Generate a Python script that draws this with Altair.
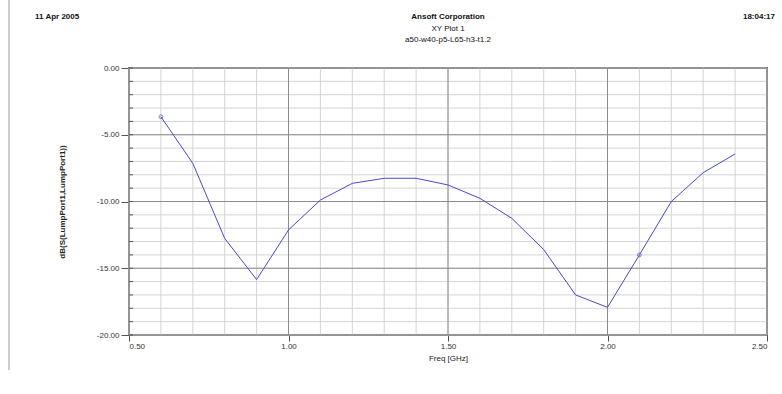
import altair as alt
import pandas as pd
import numpy as np

freq = [0.6, 0.7, 0.8, 0.9, 1.0, 1.1, 1.2, 1.3, 1.4, 1.5, 1.6, 1.7, 1.8, 1.9, 2.0, 2.1, 2.2, 2.3, 2.4]
db = [-3.65, -7.14, -12.76, -15.85, -12.13, -9.89, -8.64, -8.26, -8.26, -8.76, -9.76, -11.26,
      -13.6, -17.0, -17.93, -14.0, -10.0, -7.84, -6.44]
marker_freq = [0.6, 2.1]
marker_db = [-3.65, -14.0]

x_major = [0.5, 1.0, 1.5, 2.0, 2.5]
y_major = [0, -5, -10, -15, -20]
x_minor = [round(v, 1) for v in np.arange(0.5, 2.51, 0.1)]
y_minor = list(range(0, -21, -1))

df = pd.DataFrame({"f": freq, "db": db})
dm = pd.DataFrame({"f": marker_freq, "db": marker_db})

FONT = "Liberation Sans"
xs = alt.Scale(domain=[0.5, 2.5], nice=False, zero=False)
ys = alt.Scale(domain=[-20, 0], nice=False, zero=False)
LBL = "replace(format(datum.value, '.2f'), '\u2212', '-')"

x_axis = alt.Axis(values=x_major, labelExpr=LBL, grid=False, tickSize=6, tickColor="#555555",
                  domain=False, labelFont=FONT, labelFontSize=8, labelColor="#333333",
                  labelPadding=1, titleFont=FONT, titleFontSize=8, titleFontWeight="normal",
                  titleColor="#222222", titlePadding=4)
y_axis = alt.Axis(values=y_major, labelExpr=LBL, grid=False, tickSize=8, tickColor="#555555",
                  domain=False, labelFont=FONT, labelFontSize=8, labelColor="#333333",
                  labelPadding=2, titleFont=FONT, titleFontSize=8, titleFontWeight="bold",
                  titleColor="#222222", titlePadding=30)
XT = "Freq [GHz]"
YT = "dB(S(LumpPort1,LumpPort1))"

def X(field):
    return alt.X(field, scale=xs, title=XT, axis=x_axis)

def Y(field):
    return alt.Y(field, scale=ys, title=YT, axis=y_axis)

minor_vx = alt.Chart(pd.DataFrame({"v": x_minor})).mark_rule(color="#d4d4d4", strokeWidth=1).encode(
    x=X("v:Q"))
minor_hy = alt.Chart(pd.DataFrame({"v": y_minor})).mark_rule(color="#d4d4d4", strokeWidth=1).encode(
    y=Y("v:Q"))
major_vx = alt.Chart(pd.DataFrame({"v": x_major})).mark_rule(color="#8c8c8c", strokeWidth=1).encode(
    x=X("v:Q"))
major_hy = alt.Chart(pd.DataFrame({"v": y_major})).mark_rule(color="#8c8c8c", strokeWidth=1).encode(
    y=Y("v:Q"))
inner_ticks = alt.Chart(pd.DataFrame({"v": y_minor})).mark_rule(color="#555555", strokeWidth=1).encode(
    y=Y("v:Q"), x=alt.value(0), x2=alt.value(4))

line = alt.Chart(df).mark_line(color="#4a4acc", strokeWidth=1).encode(x=X("f:Q"), y=Y("db:Q"))
markers = alt.Chart(dm).mark_point(shape="circle", size=14, color="#4a4acc", filled=False,
                                   strokeWidth=1).encode(x=X("f:Q"), y=Y("db:Q"))

def txt(s, x, y, bold=False, align="center"):
    return alt.Chart(pd.DataFrame({"t": [s]})).mark_text(
        font=FONT, fontSize=8, fontWeight="bold" if bold else "normal", color="#111111",
        align=align, baseline="middle").encode(x=alt.value(x), y=alt.value(y), text="t:N")

head = [
    txt("11 Apr 2005", -94, -51, bold=True, align="left"),
    txt("Ansoft Corporation", 319, -51, bold=True),
    txt("XY Plot 1", 319, -39),
    txt("a50-w40-p5-L65-h3-t1.2", 319, -28),
    txt("18:04:17", 646, -51, bold=True, align="right"),
]

border = alt.Chart(pd.DataFrame({"a": [0]})).mark_rule(color="#999999", strokeWidth=1).encode(
    x=alt.value(-120), y=alt.value(-68), y2=alt.value(302))

chart = alt.layer(minor_vx, minor_hy, major_vx, major_hy, inner_ticks, line, markers, border, *head).properties(
    width=638, height=267,
    autosize=alt.AutoSizeParams(type="none"),
    padding={"left": 129, "top": 68, "right": 15, "bottom": 59},
    background="white",
).configure_view(stroke="#666666", strokeWidth=2)

chart.save("out.html", embed_options={"renderer": "svg", "actions": False})
